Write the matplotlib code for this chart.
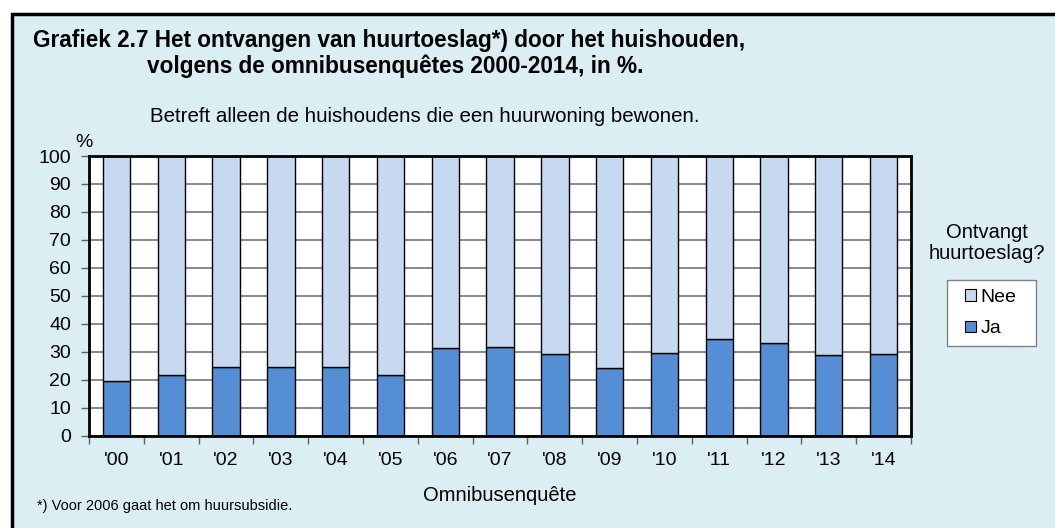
import matplotlib.pyplot as plt
from matplotlib.patches import Rectangle, Patch

plt.rcParams['font.family'] = ['Liberation Sans', 'DejaVu Sans']

# data
years = ["'00", "'01", "'02", "'03", "'04", "'05", "'06", "'07",
         "'08", "'09", "'10", "'11", "'12", "'13", "'14"]
ja = [19.5, 21.5, 24.5, 24.5, 24.5, 21.5, 31.2, 31.6,
      29.1, 24.0, 29.4, 34.4, 33.0, 28.7, 29.0]
nee = [100 - v for v in ja]

col_ja = '#558ED5'
col_nee = '#C6D9F1'
bg = '#DBEEF4'

W, H = 1055, 528
fig = plt.figure(figsize=(W / 100, H / 100), dpi=100)
fig.patch.set_facecolor('white')

# light blue frame with black left/top border
fig.patches.append(Rectangle((12 / W, -0.05), 1.2, (H - 14) / H + 0.05,
                             transform=fig.transFigure, facecolor=bg,
                             edgecolor='black', linewidth=2.5, zorder=-1))

ax = fig.add_axes([89 / W, (H - 435.5) / H, (911 - 89) / W, (435.5 - 156) / H])
ax.set_zorder(1)
ax.set_facecolor('white')

x = range(len(years))
ax.bar(x, ja, width=0.5, color=col_ja, edgecolor='black', linewidth=1, zorder=3)
ax.bar(x, nee, width=0.5, bottom=ja, color=col_nee, edgecolor='black',
       linewidth=1, zorder=3)

ax.set_xlim(-0.5, len(years) - 0.5)
ax.set_ylim(0, 100)
ax.set_yticks(range(0, 101, 10))
ax.tick_params(axis='y', labelsize=14, length=6, width=1, color='#606060', pad=7)
ax.yaxis.grid(True, color='#808080', linewidth=1.3, zorder=1)

ax.set_xticks(list(x))
ax.set_xticklabels(years, fontsize=14)
ax.tick_params(axis='x', which='major', length=0, pad=12)
ax.set_xticks([i - 0.5 for i in range(len(years) + 1)], minor=True)
ax.tick_params(axis='x', which='minor', length=6, width=1, color='#606060')

for s in ax.spines.values():
    s.set_linewidth(2)
    s.set_color('black')
    s.set_zorder(5)

ax.set_xlabel('Omnibusenquête', fontsize=14.5, labelpad=12)

fig.text(33 / W, 1 - 40 / H, 'Grafiek 2.7 Het ontvangen van huurtoeslag*) door het huishouden,',
         fontsize=16.3, fontweight='bold', va='center', ha='left')
fig.text(147 / W, 1 - 66 / H, 'volgens de omnibusenquêtes 2000-2014, in %.',
         fontsize=16.3, fontweight='bold', va='center', ha='left')
fig.text(150 / W, 1 - 117 / H, 'Betreft alleen de huishoudens die een huurwoning bewonen.',
         fontsize=14.8, va='center', ha='left')
fig.text(84 / W, 1 - 143 / H, '%', fontsize=14, va='center', ha='center')
fig.text(37 / W, 1 - 506 / H, '*) Voor 2006 gaat het om huursubsidie.',
         fontsize=10.5, va='center', ha='left')

fig.text(987 / W, 1 - 243 / H, 'Ontvangt\nhuurtoeslag?', fontsize=14.5,
         va='center', ha='center', linespacing=1.12)

# legend box drawn by hand (wider padding than matplotlib gives)
fig.patches.append(Rectangle((947 / W, 1 - 346 / H), 89 / W, 66 / H,
                             transform=fig.transFigure, facecolor='white',
                             edgecolor='#808080', linewidth=1, zorder=2))
handles = [Patch(facecolor=col_nee, edgecolor='black', linewidth=0.8),
           Patch(facecolor=col_ja, edgecolor='black', linewidth=0.8)]
leg = fig.legend(handles, ['Nee', 'Ja'], loc='center',
                 bbox_to_anchor=(991 / W, 1 - 313 / H), fontsize=14,
                 frameon=False, handlelength=0.55,
                 handleheight=0.55, handletextpad=0.25, labelspacing=0.76,
                 borderpad=0, borderaxespad=0)
leg.set_zorder(3)

fig.savefig('out.png', dpi=100)
